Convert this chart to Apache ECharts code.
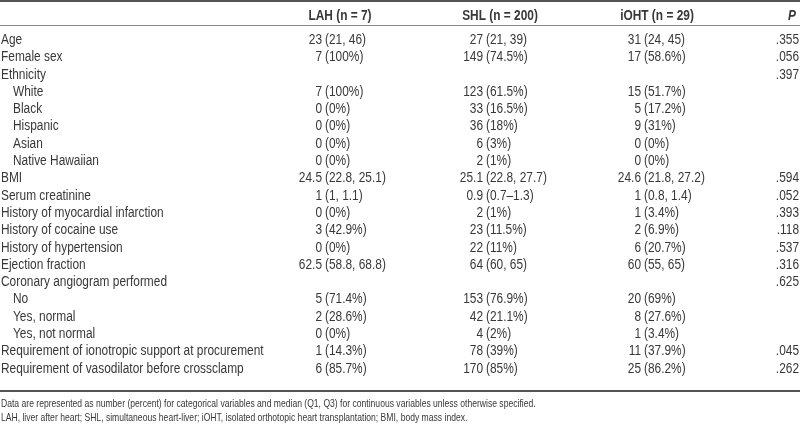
<!DOCTYPE html>
<html><head><meta charset="utf-8">
<script src="https://cdn.jsdelivr.net/npm/echarts@6/dist/echarts.min.js"></script>
<style>html,body{margin:0;padding:0;background:#fff}#c{width:800px;height:425px}</style>
</head><body><div id="c"></div>
<script>
// ---- table content ----
const columnHeaders = ['LAH (n = 7)', 'SHL (n = 200)', 'iOHT (n = 29)', 'P'];
const rowLabels = ['Age', 'Female sex', 'Ethnicity', 'White', 'Black', 'Hispanic', 'Asian', 'Native Hawaiian',
  'BMI', 'Serum creatinine', 'History of myocardial infarction', 'History of cocaine use', 'History of hypertension',
  'Ejection fraction', 'Coronary angiogram performed', 'No', 'Yes, normal', 'Yes, not normal',
  'Requirement of ionotropic support at procurement', 'Requirement of vasodilator before crossclamp'];
const indentedRows = [3, 4, 5, 6, 7, 15, 16, 17];
const lahValues = ['23 (21, 46)', '7 (100%)', '', '7 (100%)', '0 (0%)', '0 (0%)', '0 (0%)', '0 (0%)', '24.5 (22.8, 25.1)', '1 (1, 1.1)', '0 (0%)', '3 (42.9%)', '0 (0%)', '62.5 (58.8, 68.8)', '', '5 (71.4%)', '2 (28.6%)', '0 (0%)', '1 (14.3%)', '6 (85.7%)'];
const shlValues = ['27 (21, 39)', '149 (74.5%)', '', '123 (61.5%)', '33 (16.5%)', '36 (18%)', '6 (3%)', '2 (1%)', '25.1 (22.8, 27.7)', '0.9 (0.7–1.3)', '2 (1%)', '23 (11.5%)', '22 (11%)', '64 (60, 65)', '', '153 (76.9%)', '42 (21.1%)', '4 (2%)', '78 (39%)', '170 (85%)'];
const iohtValues = ['31 (24, 45)', '17 (58.6%)', '', '15 (51.7%)', '5 (17.2%)', '9 (31%)', '0 (0%)', '0 (0%)', '24.6 (21.8, 27.2)', '1 (0.8, 1.4)', '1 (3.4%)', '2 (6.9%)', '6 (20.7%)', '60 (55, 65)', '', '20 (69%)', '8 (27.6%)', '1 (3.4%)', '11 (37.9%)', '25 (86.2%)'];
const pValues = ['.355', '.056', '.397', '', '', '', '', '', '.594', '.052', '.393', '.118', '.537', '.316', '.625', '', '', '', '.045', '.262'];
const footnotes = [
  'Data are represented as number (percent) for categorical variables and median (Q1, Q3) for continuous variables unless otherwise specified.',
  'LAH, liver after heart; SHL, simultaneous heart-liver; iOHT, isolated orthotopic heart transplantation; BMI, body mass index.'
];

// ---- layout / style ----
const FONT_FAMILY = '"Liberation Sans", Arial, sans-serif';
const SX = 0.85;            // horizontal condensing of glyphs
const TEXT_COLOR = '#383838';
const labelX = 1, indentX = 13;
const colAnchors = [325, 486, 644];  // position of "(" in each value column
const pRight = 799;

const chart = echarts.init(document.getElementById('c'), null, {renderer: 'canvas'});

function splitCell(s) {
  const k = s.indexOf(' (');
  if (k < 0) return [s, ''];
  return [s.slice(0, k), s.slice(k + 1)];
}

function txt(x, y, text, align, font, extra) {
  return Object.assign({
    type: 'text', x: x, y: y, scaleX: SX,
    style: {x: 0, y: 0, text: text, align: align, verticalAlign: 'middle', font: font, fill: TEXT_COLOR}
  }, extra || {});
}

const rowFont = '14px ' + FONT_FAMILY;
const columns = [lahValues, shlValues, iohtValues];

const option = {
  animation: false,
  grid: {left: 0, right: 0, top: 31.4, bottom: 47.6},
  xAxis: {type: 'value', min: 0, max: 800, show: false},
  yAxis: {type: 'category', data: rowLabels, inverse: true, show: false},
  series: [{
    type: 'custom',
    data: rowLabels.map((_, i) => [i]),
    renderItem: function (params, api) {
      const i = api.value(0);
      const y = api.coord([0, i])[1];
      const children = [];
      const lx = api.coord([indentedRows.indexOf(i) >= 0 ? indentX : labelX, i])[0];
      children.push(txt(lx, y, rowLabels[i], 'left', rowFont));
      columns.forEach((col, c) => {
        const s = col[i];
        if (!s) return;
        const parts = splitCell(s);
        const ax = api.coord([colAnchors[c], i])[0];
        children.push(txt(ax - 3, y, parts[0], 'right', rowFont));
        if (parts[1]) children.push(txt(ax, y, parts[1], 'left', rowFont));
      });
      if (pValues[i]) children.push(txt(api.coord([pRight, i])[0], y, pValues[i], 'right', rowFont));
      return {type: 'group', children: children};
    }
  }],
  graphic: [
    {type: 'line', shape: {x1: 0, y1: 1, x2: 800, y2: 1}, style: {stroke: '#555', lineWidth: 2}},
    {type: 'line', shape: {x1: 0, y1: 25.5, x2: 800, y2: 25.5}, style: {stroke: '#888', lineWidth: 1}},
    {type: 'line', shape: {x1: 0, y1: 391, x2: 800, y2: 391}, style: {stroke: '#555', lineWidth: 2}},
    txt(340, 16, columnHeaders[0], 'center', 'bold 14px ' + FONT_FAMILY),
    txt(500, 16, columnHeaders[1], 'center', 'bold 14px ' + FONT_FAMILY),
    txt(657, 16, columnHeaders[2], 'center', 'bold 14px ' + FONT_FAMILY),
    txt(796, 16, columnHeaders[3], 'right', 'italic bold 14px ' + FONT_FAMILY),
    txt(1, 404, footnotes[0], 'left', '11px ' + FONT_FAMILY, {scaleX: 0.78}),
    txt(1, 418, footnotes[1], 'left', '11px ' + FONT_FAMILY, {scaleX: 0.78})
  ]
};
chart.setOption(option);
</script>
</body></html>
